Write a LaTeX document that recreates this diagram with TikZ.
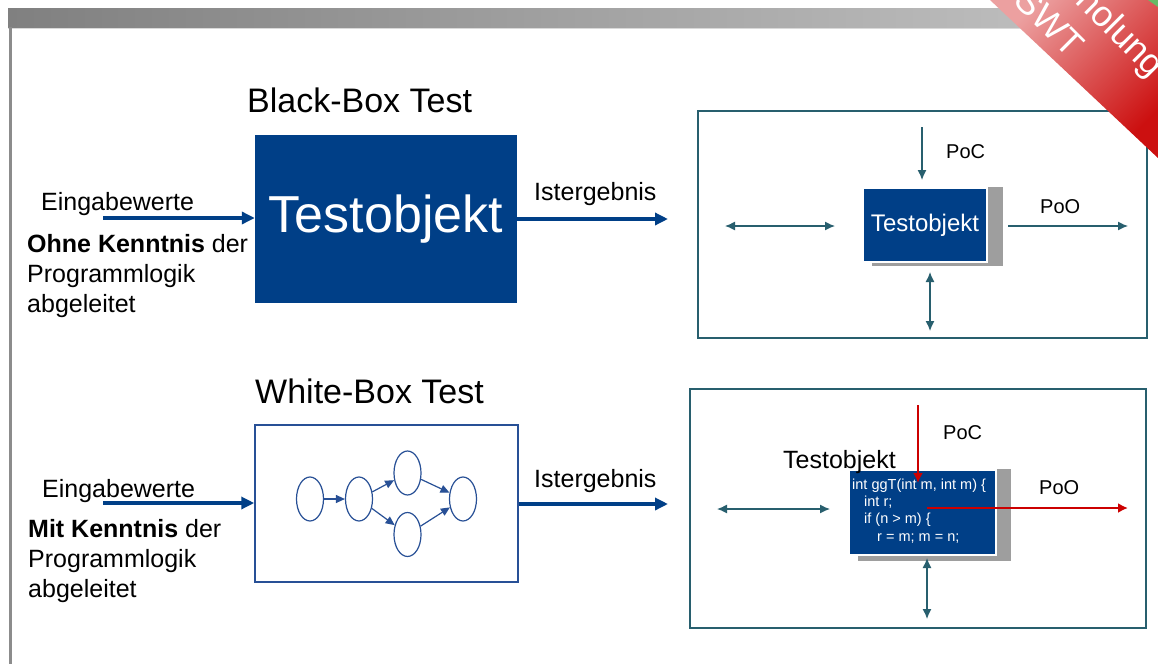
\documentclass[tikz,border=0pt]{standalone}
\usepackage{fontspec}
\setmainfont{Liberation Sans}
\usetikzlibrary{arrows.meta,shapes.geometric}
\definecolor{tblue}{RGB}{0,63,135}
\definecolor{tteal}{RGB}{40,95,110}
\definecolor{tred}{RGB}{204,0,0}
\definecolor{tline}{RGB}{40,80,150}
\newcommand{\fsz}[2]{\fontsize{#1}{#2}\selectfont}
\begin{document}
\begin{tikzpicture}[x=1pt,y=-1pt,
  lbl/.style={anchor=base west, inner sep=0pt},
  bigarrow/.style={line width=4pt, tblue, -{Triangle[length=13pt,width=12pt]}},
  tarrow/.style={line width=1.3pt, tteal, -{Latex[length=10pt,width=9pt]}},
  tdarrow/.style={line width=1.3pt, tteal, {Latex[length=10pt,width=9pt]}-{Latex[length=10pt,width=9pt]}},
  rarrow/.style={line width=2pt, tred, -{Latex[length=10pt,width=10pt]}},
  frame/.style={draw=tteal, line width=2pt},
  objbox/.style={fill=tblue, draw=white, line width=2pt, text=white},
  state/.style={ellipse, draw=tline, line width=1.2pt, minimum width=27pt, minimum height=44pt, inner sep=0pt},
  flow/.style={line width=1.2pt, tline, -{Triangle[length=9pt,width=8pt]}}]
\useasboundingbox (0,0) rectangle (1158,664);
\fill[white] (0,0) rectangle (1158,664);
\shade[left color={rgb,255:red,128;green,128;blue,128}, right color={rgb,255:red,196;green,196;blue,196}] (8,8) rectangle (1158,27);
\draw[black!15, line width=1pt] (8,28) -- (1158,28);
\fill[black!45] (9,27) rectangle (12,664);
\node[lbl, font=\fsz{34}{40}] (bbtitle) at (247,112) {Black-Box Test};
\node[fill=tblue, minimum width=262pt, minimum height=168pt, text=white, font=\fsz{52}{60}] (bbox) at (386,219) {Testobjekt};
\node[lbl, font=\fsz{25}{30}] (bbin) at (41,210) {Eingabewerte};
\coordinate (bbinstart) at (103,218);
\draw[bigarrow](bbinstart) -- (bbox.west |- bbinstart);
\node[lbl, font=\fsz{25}{30}, align=left] (bbnote) at (27,312) {\textbf{Ohne Kenntnis} der\\Programmlogik\\abgeleitet};
\node[lbl, font=\fsz{25}{30}] (bbout) at (534,200) {Istergebnis};
\coordinate (bboutend) at (668,219);
\draw[bigarrow](bbox.east |- bboutend) -- (bboutend);
\node[frame, minimum width=449pt, minimum height=227pt] (bbframe) at (922.5,224.5) {};
\fill[black!38] (872,187) rectangle (1003,266);
\node[objbox, minimum width=124pt, minimum height=74pt, font=\fsz{24}{28}] (sbox) at (925,225) {Testobjekt};
\coordinate (bbpocs) at (922,127);
\coordinate (bbpoce) at (922,180);
\draw[tarrow](bbpocs) -- (bbpoce);
\node[lbl, font=\fsz{20}{24}] (bbpoc) at (946,158) {PoC};
\coordinate (bbpoos) at (1008,226);
\coordinate (bbpooe) at (1128,226);
\draw[tarrow](bbpoos) -- (bbpooe);
\node[lbl, font=\fsz{20}{24}] (bbpoo) at (1040,213) {PoO};
\coordinate (bblefts) at (725,226);
\coordinate (bblefte) at (835,226);
\draw[tdarrow](bblefts) -- (bblefte);
\coordinate (bbdowns) at (930,272);
\coordinate (bbdowne) at (930,331);
\draw[tdarrow](bbdowns) -- (bbdowne);
\node[lbl, font=\fsz{34}{40}] (wbtitle) at (255,403) {White-Box Test};
\node[draw=tline, line width=1.5pt, minimum width=263pt, minimum height=157pt] (wbox) at (386.5,503.5) {};
\node[state] (st1) at (310,499){};
\node[state] (st2) at (359,499){};
\node[state] (st3) at (407.5,473){};
\node[state] (st4) at (407.5,534.5){};
\node[state] (st5) at (463,499){};
\draw[flow](st1) -- (st2);
\draw[flow](st2) -- (st3);
\draw[flow](st2) -- (st4);
\draw[flow](st3) -- (st5);
\draw[flow](st4) -- (st5);
\node[lbl, font=\fsz{25}{30}] (wbin) at (42,497) {Eingabewerte};
\coordinate (wbinstart) at (103,503);
\draw[bigarrow](wbinstart) -- (wbox.west |- wbinstart);
\node[lbl, font=\fsz{25}{30}, align=left] (wbnote) at (28,597) {\textbf{Mit Kenntnis} der\\Programmlogik\\abgeleitet};
\node[lbl, font=\fsz{25}{30}] (wbout) at (534,487) {Istergebnis};
\coordinate (wboutend) at (668,504);
\draw[bigarrow](wbox.east |- wboutend) -- (wboutend);
\node[frame, minimum width=456pt, minimum height=239pt] (wbframe) at (918,508.5) {};
\fill[black!38] (858,469) rectangle (1011,561);
\node[objbox, minimum width=147pt, minimum height=85pt] (cbox) at (922.5,512.5) {};
\node[lbl, font=\fsz{25}{30}] (cboxlbl) at (783,468) {Testobjekt};
\node[lbl, font=\fsz{14.5}{17.3}, text=white, align=left] (code) at (852,541) {int ggT(int m, int m) \{\\\hspace*{12pt}int r;\\\hspace*{12pt}if (n > m) \{\\\hspace*{25pt}r = m; m = n;};
\coordinate (wbpocs) at (918,405);
\coordinate (wbpoce) at (918,483);
\draw[rarrow](wbpocs) -- (wbpoce);
\node[lbl, font=\fsz{20}{24}] (wbpoc) at (943,439) {PoC};
\coordinate (wbpoos) at (927,508);
\coordinate (wbpooe) at (1128,508);
\draw[rarrow](wbpoos) -- (wbpooe);
\node[lbl, font=\fsz{20}{24}] (wbpoo) at (1039,494) {PoO};
\coordinate (wblefts) at (717,509);
\coordinate (wblefte) at (830,509);
\draw[tdarrow](wblefts) -- (wblefte);
\coordinate (wbdowns) at (927,558);
\coordinate (wbdowne) at (927,619);
\draw[tdarrow](wbdowns) -- (wbdowne);
\begin{scope}
\clip (990,0) -- (1158,0) -- (1158,158) -- cycle;
\shade[top color={rgb,255:red,236;green,160;blue,160}, bottom color={rgb,255:red,204;green,16;blue,16}, shading angle=45] (990,0) -- (1158,0) -- (1158,158) -- cycle;
\fill[green!55!black!60] (1148,0) -- (1158,0) -- (1158,7) -- cycle;
\node[rotate=-45, text=white, font=\fsz{36}{40}] (ribbon1) at (1079,-6) {Wiederholung};
\node[rotate=-45, text=white, font=\fsz{36}{40}] (ribbon2) at (1050,22) {SWT};
\end{scope}
\end{tikzpicture}
\end{document}
